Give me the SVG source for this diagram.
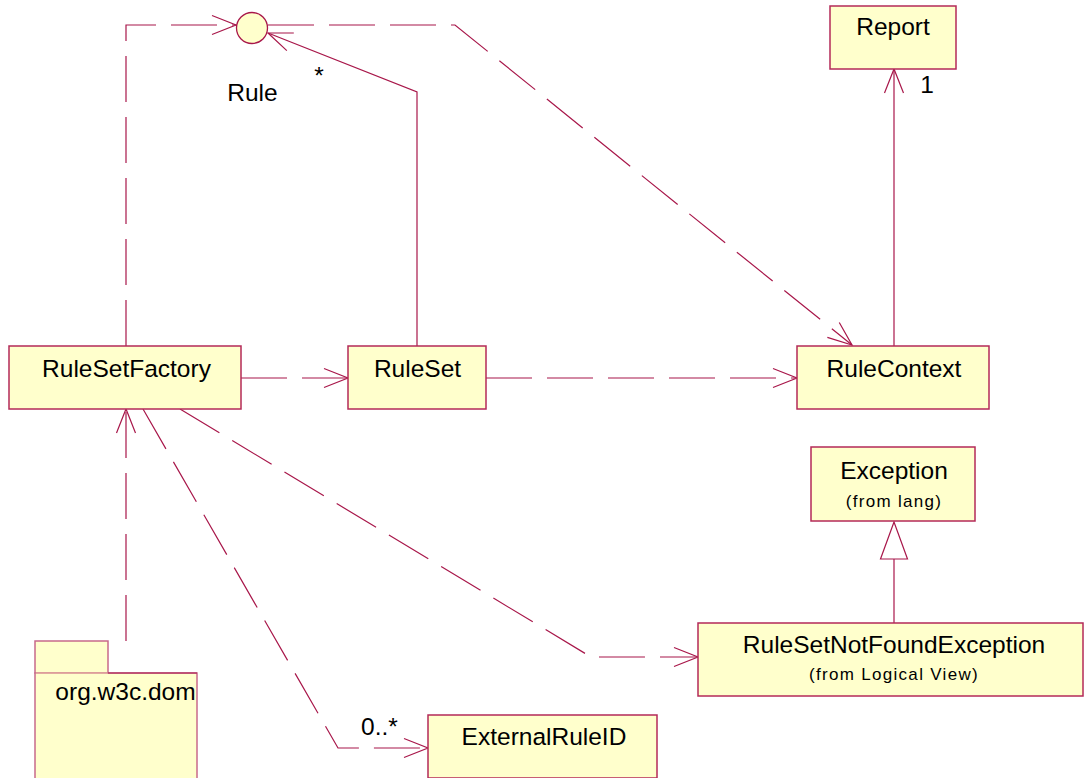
<svg xmlns="http://www.w3.org/2000/svg" width="1084" height="778" viewBox="0 0 1084 778">
  <style>
    .box { fill: #FFFFCC; stroke: #B42A58; stroke-width: 1.5; }
    .lbl { font-family: "Liberation Sans", Arial, sans-serif; font-size: 24.5px; fill: #000; text-anchor: middle; }
    .sub { font-family: "Liberation Sans", Arial, sans-serif; font-size: 17px; letter-spacing: 1.3px; fill: #000; text-anchor: middle; }
    .mult { font-family: "Liberation Sans", Arial, sans-serif; font-size: 24.5px; fill: #000; }
    .dep { fill: none; stroke: #A8174A; stroke-width: 1.2; stroke-dasharray: 46 15; marker-end: url(#open); }
    .assoc { fill: none; stroke: #A8174A; stroke-width: 1.2; marker-end: url(#open); }
    .gen { fill: none; stroke: #A8174A; stroke-width: 1.2; }
  </style>
  <defs>
    <marker id="open" markerUnits="userSpaceOnUse" viewBox="-26 -12 28 24" markerWidth="28" markerHeight="24" refX="0" refY="0" orient="auto" overflow="visible">
      <path d="M-24,-9.5 L0,0 L-24,9.5" fill="none" stroke="#A8174A" stroke-width="1.2"/>
    </marker>
  </defs>
  <rect width="1084" height="778" fill="#FFFFFF"/>

  <!-- connectors -->
  <g id="connectors">
    <path class="dep" d="M126,346 V25 H236"/>
    <path class="dep" d="M268,25 H455 L852,345"/>
    <path class="assoc" d="M417,346 V92 L268,33"/>
    <path class="assoc" d="M894,346 V69"/>
    <path class="dep" d="M241,378 H348"/>
    <path class="dep" d="M486,378 H797"/>
    <path class="dep" d="M180,409 L591,657 H698"/>
    <path class="dep" d="M143,409 L338,748 H428"/>
    <path class="dep" d="M126,641 V409"/>
    <path class="gen" d="M894,623 V559"/>
    <polygon points="894,522 880.5,559 907.5,559" fill="#FFFFFF" stroke="#A8174A" stroke-width="1.2"/>
    <text class="mult" x="319" y="84" text-anchor="middle">*</text>
    <text class="mult" x="927" y="93" text-anchor="middle">1</text>
    <text class="mult" x="361" y="735">0..*</text>
  </g>

  <!-- Rule interface (lollipop) -->
  <g id="Rule">
    <circle cx="252" cy="28" r="15.5" fill="#FFFFCC" stroke="#A8174A" stroke-width="1.3"/>
    <text class="lbl" x="252.5" y="101">Rule</text>
  </g>

  <g id="Report">
    <rect class="box" x="830" y="6" width="126" height="63"/>
    <text class="lbl" x="893" y="35">Report</text>
  </g>

  <g id="RuleSetFactory">
    <rect class="box" x="9" y="346" width="232" height="63"/>
    <text class="lbl" x="126.5" y="377">RuleSetFactory</text>
  </g>

  <g id="RuleSet">
    <rect class="box" x="348" y="346" width="138" height="63"/>
    <text class="lbl" x="417.5" y="377">RuleSet</text>
  </g>

  <g id="RuleContext">
    <rect class="box" x="797" y="346" width="192" height="63"/>
    <text class="lbl" x="894" y="377">RuleContext</text>
  </g>

  <g id="Exception">
    <rect class="box" x="811" y="447" width="164" height="74"/>
    <text class="lbl" x="894" y="479">Exception</text>
    <text class="sub" x="894" y="507">(from lang)</text>
  </g>

  <g id="RuleSetNotFoundException">
    <rect class="box" x="698" y="623" width="385" height="73"/>
    <text class="lbl" x="894" y="653">RuleSetNotFoundException</text>
    <text class="sub" x="894" y="680">(from Logical View)</text>
  </g>

  <g id="ExternalRuleID">
    <rect class="box" x="428" y="715" width="229" height="63"/>
    <text class="lbl" x="544" y="745">ExternalRuleID</text>
  </g>

  <!-- package -->
  <g id="org.w3c.dom">
    <rect x="35" y="641" width="73" height="32" fill="#FFFFCC" stroke="#C86A8A" stroke-width="1.5"/>
    <rect x="35" y="673" width="162" height="110" fill="#FFFFCC" stroke="#C86A8A" stroke-width="1.5"/>
    <line x1="35.8" y1="673" x2="107.5" y2="673" stroke="#F0C8A8" stroke-width="1.2"/>
    <line x1="108" y1="673" x2="197" y2="673" stroke="#A8174A" stroke-width="1.2"/>
    <text class="lbl" x="125.5" y="700">org.w3c.dom</text>
  </g>
</svg>
